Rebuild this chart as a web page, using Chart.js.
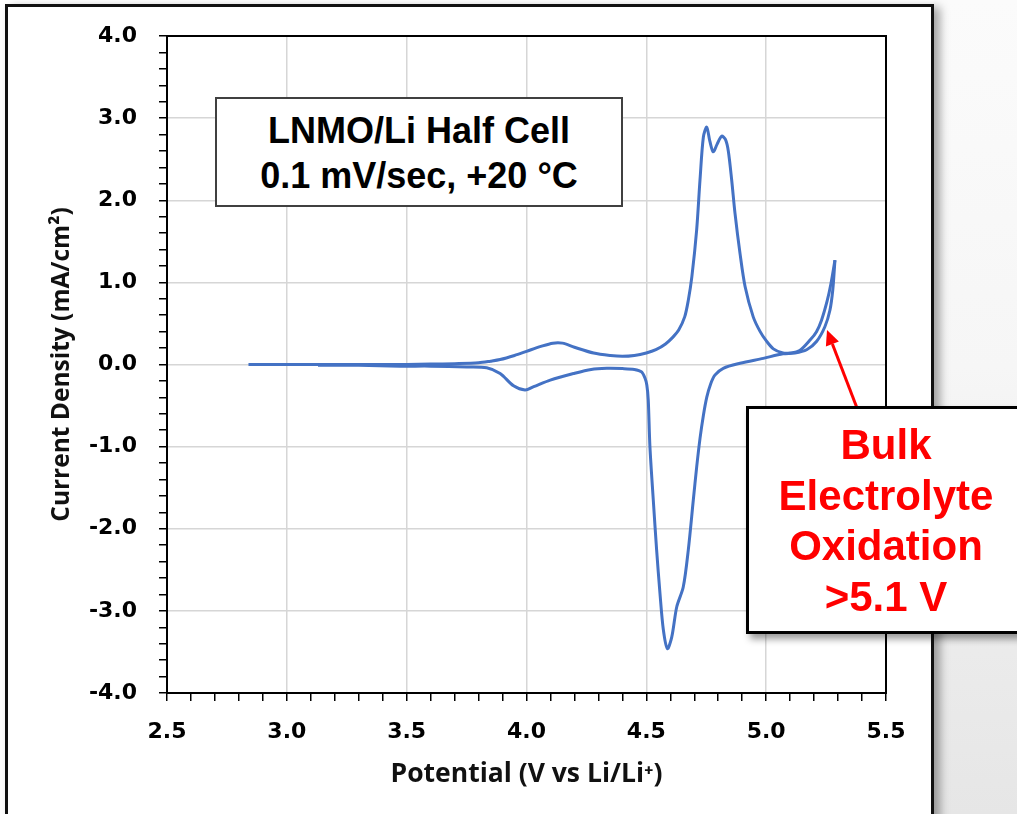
<!DOCTYPE html>
<html>
<head>
<meta charset="utf-8">
<title>LNMO/Li Half Cell CV</title>
<script src="https://cdn.jsdelivr.net/npm/chart.js@4/dist/chart.umd.min.js"></script>
<style>
  html, body { margin: 0; padding: 0; }
  body { width: 1017px; height: 814px; position: relative; overflow: hidden; background: #ffffff; }
  #side { position: absolute; left: 934px; top: 0; width: 83px; height: 814px;
          background: linear-gradient(to bottom, #fbfbfb 0%, #f6f6f6 45%, #ebebeb 80%, #e6e6e6 100%); }
  #frame { position: absolute; left: 5px; top: 4px; width: 923px; height: 900px;
           border: 3px solid #111; background: #fff; box-shadow: 6px 3px 9px rgba(0,0,0,0.35); }
  #cv { position: absolute; left: 0; top: 0; z-index: 1; }
  #arrow { position: absolute; left: 0; top: 0; z-index: 2; pointer-events: none; }
  .box { position: absolute; background: #fff; box-sizing: border-box; text-align: center;
         font-family: "Liberation Sans", Arial, sans-serif; font-weight: bold; z-index: 3; }
  #cellBox { left: 215px; top: 97px; width: 408px; height: 110px; border: 2px solid #404040;
             font-size: 36px; line-height: 45px; padding-top: 9px; color: #000; }
  #noteBox { left: 746px; top: 406px; width: 280px; height: 228px; border: 3px solid #000;
             font-size: 42px; line-height: 50.5px; padding-top: 11px; color: #ff0000;
             box-shadow: 4px 5px 7px rgba(0,0,0,0.4); z-index: 4; }
</style>
</head>
<body>
<div id="side"></div>
<div id="frame"></div>
<canvas id="cv" width="1017" height="814"></canvas>
<svg id="arrow" width="1017" height="814">
  <line x1="857" y1="408" x2="832.4" y2="344" stroke="#ff0000" stroke-width="3"/>
  <polygon points="827,330 838.9,341.5 825.9,346.5" fill="#ff0000"/>
</svg>
<div class="box" id="cellBox">LNMO/Li Half Cell<br>0.1 mV/sec, +20 °C</div>
<div class="box" id="noteBox">Bulk<br>Electrolyte<br>Oxidation<br>&gt;5.1 V</div>

<script>
// Anodic sweep (potential rising), V vs Li/Li+ and mA/cm2
const potentialUp = [2.84, 3.00, 3.20, 3.40, 3.50, 3.60, 3.70, 3.80, 3.85, 3.89, 3.95, 4.00, 4.06, 4.11, 4.15,
  4.20, 4.28, 4.35, 4.40, 4.45, 4.50, 4.54, 4.58, 4.61, 4.635, 4.66, 4.675, 4.69, 4.71, 4.724, 4.738, 4.752,
  4.765, 4.779, 4.795, 4.814, 4.83, 4.842, 4.856, 4.870, 4.891, 4.912, 4.946, 4.975, 5.00, 5.03, 5.07, 5.10,
  5.14, 5.184, 5.21, 5.231, 5.255, 5.27, 5.287];
const currentUp = [0.00, 0.00, 0.00, 0.00, 0.00, 0.005, 0.01, 0.02, 0.04, 0.06, 0.11, 0.16, 0.22, 0.26, 0.26,
  0.21, 0.14, 0.11, 0.10, 0.11, 0.14, 0.18, 0.25, 0.33, 0.42, 0.58, 0.78, 1.07, 1.64, 2.25, 2.77, 2.89,
  2.72, 2.59, 2.68, 2.78, 2.74, 2.60, 2.25, 1.84, 1.35, 0.95, 0.58, 0.40, 0.29, 0.19, 0.14, 0.14,
  0.17, 0.30, 0.40, 0.54, 0.78, 0.98, 1.27];

// Cathodic sweep (potential falling back from the vertex)
const potentialDown = [5.287, 5.278, 5.266, 5.245, 5.21, 5.169, 5.12, 5.07, 4.988, 4.891, 4.821, 4.786, 4.768,
  4.752, 4.738, 4.724, 4.71, 4.696, 4.675, 4.654, 4.627, 4.606, 4.588, 4.571, 4.557, 4.543, 4.529, 4.515, 4.508,
  4.502, 4.495, 4.48, 4.45, 4.40, 4.335, 4.27, 4.196, 4.099, 4.03, 3.994, 3.946, 3.89, 3.834, 3.751, 3.60,
  3.473, 3.30, 3.13];
const currentDown = [1.27, 0.91, 0.66, 0.46, 0.28, 0.18, 0.14, 0.13, 0.075, 0.015, -0.046, -0.13, -0.24,
  -0.40, -0.62, -0.90, -1.25, -1.65, -2.26, -2.71, -2.95, -3.32, -3.46, -3.23, -2.79, -2.26, -1.65, -1.00, -0.43,
  -0.25, -0.17, -0.09, -0.06, -0.05, -0.047, -0.06, -0.11, -0.19, -0.27, -0.31, -0.26, -0.11, -0.04, -0.03, -0.02,
  -0.02, -0.01, -0.01];

// Axis ranges and labelled tick values
const xTickLabels = [2.5, 3.0, 3.5, 4.0, 4.5, 5.0, 5.5];
const yTickLabels = [-4.0, -3.0, -2.0, -1.0, 0.0, 1.0, 2.0, 3.0, 4.0];

const toPoints = (xs, ys) => xs.map((x, i) => ({ x: x, y: ys[i] }));
const isLabelled = (list, v) => list.some(t => Math.abs(t - v) < 1e-6);

const tickFont = { family: "DejaVu Sans", weight: "bold", size: 22 };
const lineBlue = "#4472C4";
const gridGray = "#d6d6d6";

// Black outline around the plotting area
const plotOutline = {
  id: "plotOutline",
  beforeDatasetsDraw(chart) {
    const { ctx, chartArea: a } = chart;
    ctx.save();
    ctx.strokeStyle = "#000";
    ctx.lineWidth = 2;
    ctx.strokeRect(a.left, a.top, a.right - a.left, a.bottom - a.top);
    ctx.restore();
  }
};

new Chart(document.getElementById("cv"), {
  type: "line",
  data: {
    datasets: [
      { label: "Anodic sweep", data: toPoints(potentialUp, currentUp) },
      { label: "Cathodic sweep", data: toPoints(potentialDown, currentDown) }
    ]
  },
  options: {
    responsive: false,
    animation: false,
    devicePixelRatio: 1,
    layout: { padding: { left: 0, top: 36, right: 131, bottom: 0 } },
    elements: {
      point: { radius: 0 },
      line: { borderColor: lineBlue, borderWidth: 3, tension: 0.3, fill: false, capBezierPoints: true }
    },
    plugins: { legend: { display: false }, tooltip: { enabled: false } },
    scales: {
      x: {
        type: "linear",
        min: xTickLabels[0],
        max: xTickLabels[xTickLabels.length - 1],
        afterFit(scale) { scale.height = 121; },
        ticks: {
          stepSize: 0.1,
          autoSkip: false,
          maxRotation: 0,
          padding: 18,
          color: "#000",
          font: tickFont,
          callback: v => isLabelled(xTickLabels, v) ? v.toFixed(1) : ""
        },
        grid: {
          color: c => isLabelled(xTickLabels, c.tick.value) ? gridGray : "rgba(0,0,0,0)",
          lineWidth: 1.5,
          tickColor: "#000",
          tickWidth: 1.5,
          tickLength: 8
        },
        border: { display: true, color: "#000", width: 2 },
        title: {
          display: true,
          text: "Potential (V vs Li/Li\u207A)",
          color: "#111",
          font: { family: "Open Sans", weight: "bold", size: 26.5 },
          padding: { top: 0, bottom: 24 }
        }
      },
      y: {
        type: "linear",
        min: yTickLabels[0],
        max: yTickLabels[yTickLabels.length - 1],
        afterFit(scale) { scale.width = 167; },
        ticks: {
          stepSize: 0.2,
          autoSkip: false,
          padding: 22,
          color: "#000",
          font: tickFont,
          callback: v => isLabelled(yTickLabels, v) ? v.toFixed(1) : ""
        },
        grid: {
          color: c => isLabelled(yTickLabels, c.tick.value) ? gridGray : "rgba(0,0,0,0)",
          lineWidth: 1.5,
          tickColor: "#000",
          tickWidth: 1.5,
          tickLength: 8
        },
        border: { display: true, color: "#000", width: 2 },
        title: {
          display: true,
          text: "Current Density (mA/cm\u00B2)",
          color: "#111",
          font: { family: "Open Sans", weight: "bold", size: 24.5 },
          padding: { top: 47, bottom: 0 }
        }
      }
    }
  },
  plugins: [plotOutline]
});
</script>
</body>
</html>
